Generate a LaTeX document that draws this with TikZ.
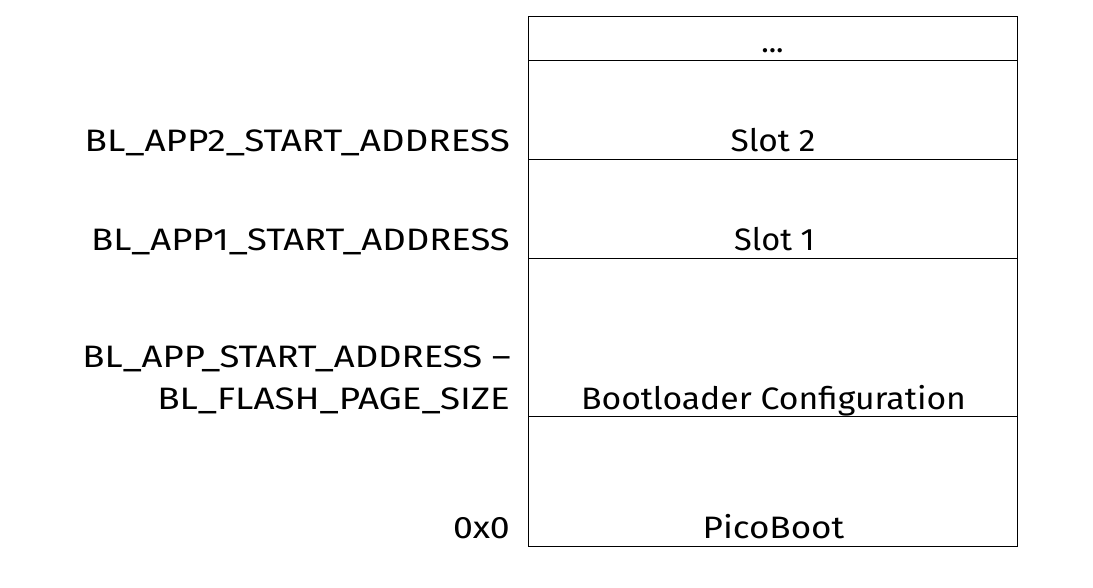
\documentclass[tikz,border=0pt]{standalone}
\usepackage{fontspec}
\setmainfont{Fira Sans}
\newcommand{\hstretch}[2]{\scalebox{#1}[1]{#2}}
\begin{document}
\begin{tikzpicture}[x=1pt,y=-1pt,
  region/.style={draw, line width=0.9pt, minimum width=489pt, anchor=north west, inner sep=0pt, outer sep=0pt},
  lbl/.style={font=\fontsize{31}{42}\selectfont, inner sep=0pt, align=right}]
\useasboundingbox (0,0) rectangle (1093,588);
\node[region, minimum height=44pt] (r0) at (528,16) {};
\node[region, minimum height=99pt] (r1) at (528,60) {};
\node[region, minimum height=99pt] (r2) at (528,159) {};
\node[region, minimum height=158pt] (r3) at (528,258) {};
\node[region, minimum height=130pt] (r4) at (528,416) {};
\node[lbl, anchor=base] (t0) at (772.5,53) {...};
\node[lbl, anchor=base] (t1) at (773,152) {\hstretch{1.08}{Slot 2}};
\node[lbl, anchor=base] (t2) at (774.5,251) {\hstretch{1.05}{Slot 1}};
\node[lbl, anchor=base] (t3) at (773.5,409) {\hstretch{1.088}{Bootloader Configuration}};
\node[lbl, anchor=base] (t4) at (773.5,538) {\hstretch{1.13}{PicoBoot}};
\node[lbl, anchor=base east] (a1) at (510,152) {\hstretch{1.189}{BL\_APP2\_START\_ADDRESS}};
\node[lbl, anchor=base east] (a2) at (510,251) {\hstretch{1.176}{BL\_APP1\_START\_ADDRESS}};
\node[lbl, anchor=base east] (a3) at (510,409) {\hstretch{1.187}{BL\_FLASH\_PAGE\_SIZE}};
\node[lbl, anchor=base east] (a3b) at (511,367) {\hstretch{1.176}{BL\_APP\_START\_ADDRESS –}};
\node[lbl, anchor=base east] (a4) at (510,538) {\hstretch{1.15}{0x0}};
\end{tikzpicture}
\end{document}
